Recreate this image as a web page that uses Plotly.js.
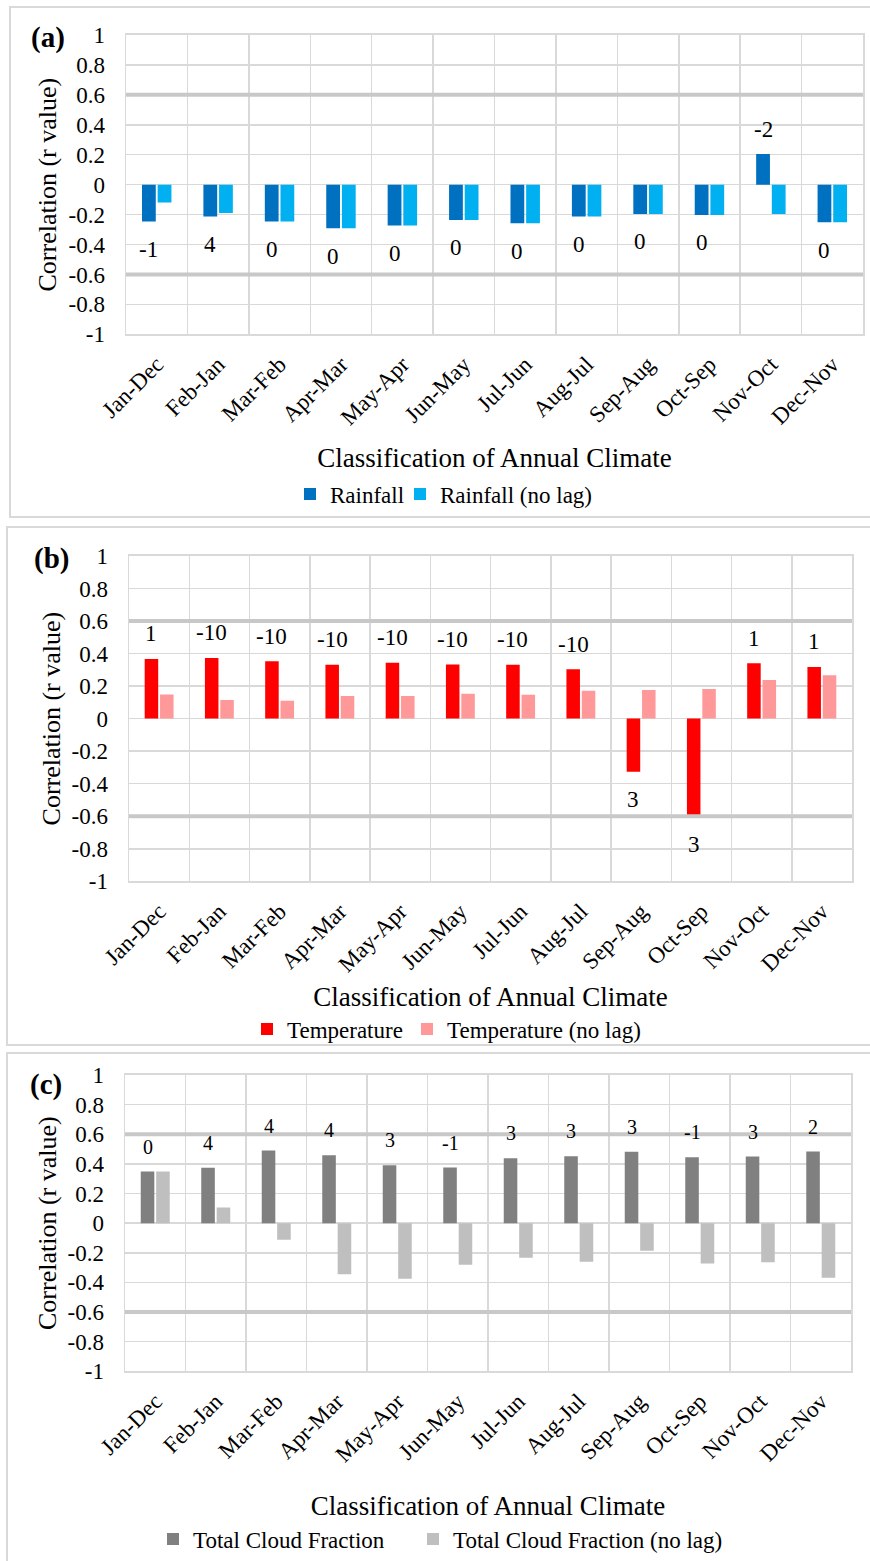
<!DOCTYPE html>
<html><head><meta charset="utf-8">
<script src="https://cdn.plot.ly/plotly-3.0.1.min.js"></script>
<style>html,body{margin:0;padding:0;background:#fff;}#chart{width:870px;height:1561px;}</style>
</head><body><div id="chart"></div>
<script>
// ---------- data ----------
const categories = ["Jan-Dec","Feb-Jan","Mar-Feb","Apr-Mar","May-Apr","Jun-May","Jul-Jun","Aug-Jul","Sep-Aug","Oct-Sep","Nov-Oct","Dec-Nov"];

const rainfall        = [-0.247,-0.213,-0.247,-0.291,-0.273,-0.236,-0.258,-0.213,-0.196,-0.202, 0.204,-0.251];
const rainfallNoLag   = [-0.120,-0.189,-0.247,-0.291,-0.273,-0.236,-0.258,-0.213,-0.196,-0.202,-0.196,-0.251];
const rainfallLag     = ["-1","4","0","0","0","0","0","0","0","0","-2","0"];

const temperature      = [0.367,0.373,0.353,0.331,0.343,0.333,0.331,0.304,-0.327,-0.604,0.341,0.318];
const temperatureNoLag = [0.149,0.114,0.110,0.139,0.139,0.153,0.147,0.171, 0.176, 0.182,0.237,0.267];
const temperatureLag   = ["1","-10","-10","-10","-10","-10","-10","-10","3","3","1","1"];

const cloud      = [0.348,0.373,0.490,0.458,0.391,0.375,0.438,0.452,0.481,0.445,0.449,0.483];
const cloudNoLag = [0.348,0.106,-0.112,-0.344,-0.375,-0.281,-0.234,-0.261,-0.187,-0.272,-0.263,-0.369];
const cloudLag   = ["0","4","4","4","3","-1","3","3","3","-1","3","2"];

const yTickVals = [-1,-0.8,-0.6,-0.4,-0.2,0,0.2,0.4,0.6,0.8,1];
const yTickText = ["-1","-0.8","-0.6","-0.4","-0.2","0","0.2","0.4","0.6","0.8","1"];
const significance = [0.6,-0.6];

const xTitle = "Classification of Annual Climate";
const yTitle = "Correlation (r value)";

// ---------- layout helpers ----------
const W = 870, H = 1561;
const FONT = "Liberation Serif";
const GRID = "#d9d9d9";
const BARGAP = 0.49;
const px = v => v / W;
const py = v => 1 - v / H;

const panels = [
  {letter:"(a)", names:["Rainfall","Rainfall (no lag)"], main:rainfall, noLag:rainfallNoLag, lag:rainfallLag,
   colors:["#0070C0","#00B0F0"], plot:{l:126,r:863,t:35,b:335}, box:{l:10,t:7,b:518},
   letterPos:[48,38], xTitleStand:19, yTitleStand:4, lagFont:23,
   legendText:[327,437], legendY:495},
  {letter:"(b)", names:["Temperature","Temperature (no lag)"], main:temperature, noLag:temperatureNoLag, lag:temperatureLag,
   colors:["#FF0000","#FF9999"], plot:{l:129,r:852,t:557,b:883}, box:{l:7,t:528,b:1047},
   letterPos:[51,560], xTitleStand:11, yTitleStand:3, lagFont:23,
   legendText:[284,444], legendY:1031},
  {letter:"(c)", names:["Total Cloud Fraction","Total Cloud Fraction (no lag)"], main:cloud, noLag:cloudNoLag, lag:cloudLag,
   colors:["#808080","#BFBFBF"], plot:{l:125,r:851,t:1077,b:1374}, box:{l:7,t:1055,b:1600},
   letterPos:[46,1087], xTitleStand:30, yTitleStand:3, lagFont:20,
   legendText:[190,450], legendY:1542}
];

const data = [];
const layout = {
  width: W, height: H,
  margin: {l:0, r:0, t:0, b:0},
  paper_bgcolor: "#fff", plot_bgcolor: "#fff",
  barmode: "group", bargap: BARGAP, bargroupgap: 0.12,
  font: {family: FONT, color: "#000"},
  showlegend: true,
  shapes: [], annotations: []
};

let legendCount = 0;
panels.forEach((p, i) => {
  const n = i === 0 ? "" : String(i + 1);
  const xa = "x" + n, ya = "y" + n;
  [p.main, p.noLag].forEach((vals, k) => {
    legendCount += 1;
    const lg = legendCount === 1 ? "legend" : "legend" + legendCount;
    data.push({
      type: "bar", x: categories, y: vals, name: p.names[k],
      xaxis: xa, yaxis: ya, legend: lg,
      marker: {color: p.colors[k], line: {width: 0}},
      hoverinfo: "skip"
    });
    layout[lg] = {
      orientation: "h", x: px(p.legendText[k] - 37), xanchor: "left",
      y: py(p.legendY), yanchor: "middle",
      font: {size: 23, family: FONT, color: "#000"},
      bgcolor: "rgba(0,0,0,0)", itemclick: false, itemdoubleclick: false
    };
  });

  layout["xaxis" + n] = {
    domain: [px(p.plot.l), px(p.plot.r)], anchor: ya,
    type: "category", tickson: "boundaries", ticks: "",
    tickangle: -45, tickfont: {size: 23, family: FONT, color: "#000"},
    ticklabelstandoff: 6,
    showgrid: true, gridcolor: GRID, gridwidth: 1.5,
    showline: true, linecolor: GRID, linewidth: 1.5, mirror: true,
    zeroline: false, automargin: false, fixedrange: true,
    title: {text: xTitle, font: {size: 27, family: FONT, color: "#000"}, standoff: p.xTitleStand}
  };
  layout["yaxis" + n] = {
    domain: [py(p.plot.b), py(p.plot.t)], anchor: xa,
    range: [-1, 1], tickvals: yTickVals, ticktext: yTickText,
    tickfont: {size: 23, family: FONT, color: "#000"}, ticks: "",
    ticklabelstandoff: 15,
    showgrid: true, gridcolor: GRID, gridwidth: 1.5,
    showline: true, linecolor: GRID, linewidth: 1.5, mirror: true,
    zeroline: false, automargin: false, fixedrange: true,
    title: {text: yTitle, font: {size: 26, family: FONT, color: "#000"}, standoff: p.yTitleStand}
  };

  // significance lines
  significance.forEach(s => {
    layout.shapes.push({type: "line", xref: xa + " domain", yref: ya, x0: 0, x1: 1, y0: s, y1: s,
      line: {color: "#c8c8c8", width: 4}, layer: "above"});
  });
  // panel frame
  layout.shapes.push({type: "rect", xref: "paper", yref: "paper",
    x0: px(p.box.l), x1: px(W + 20), y0: py(p.box.b), y1: py(p.box.t),
    line: {color: GRID, width: 2}, fillcolor: "rgba(0,0,0,0)", layer: "below"});

  // panel letter
  layout.annotations.push({xref: "paper", yref: "paper", x: px(p.letterPos[0]), y: py(p.letterPos[1]),
    text: "<b>" + p.letter + "</b>", showarrow: false, xanchor: "center", yanchor: "middle",
    font: {size: 29, family: FONT, color: "#000"}});

  // lag labels above/below the lagged bar
  const catW = (p.plot.r - p.plot.l) / categories.length;
  const barShift = -(1 - BARGAP) * catW / 4;
  p.main.forEach((v, j) => {
    layout.annotations.push({xref: xa, yref: ya, x: categories[j], y: v,
      xshift: barShift, yshift: v >= 0 ? 25 : -28,
      text: p.lag[j], showarrow: false, xanchor: "center", yanchor: "middle",
      font: {size: p.lagFont, family: FONT, color: "#000"}});
  });
});

Plotly.newPlot("chart", data, layout, {staticPlot: true, displayModeBar: false});
</script>
</body></html>
